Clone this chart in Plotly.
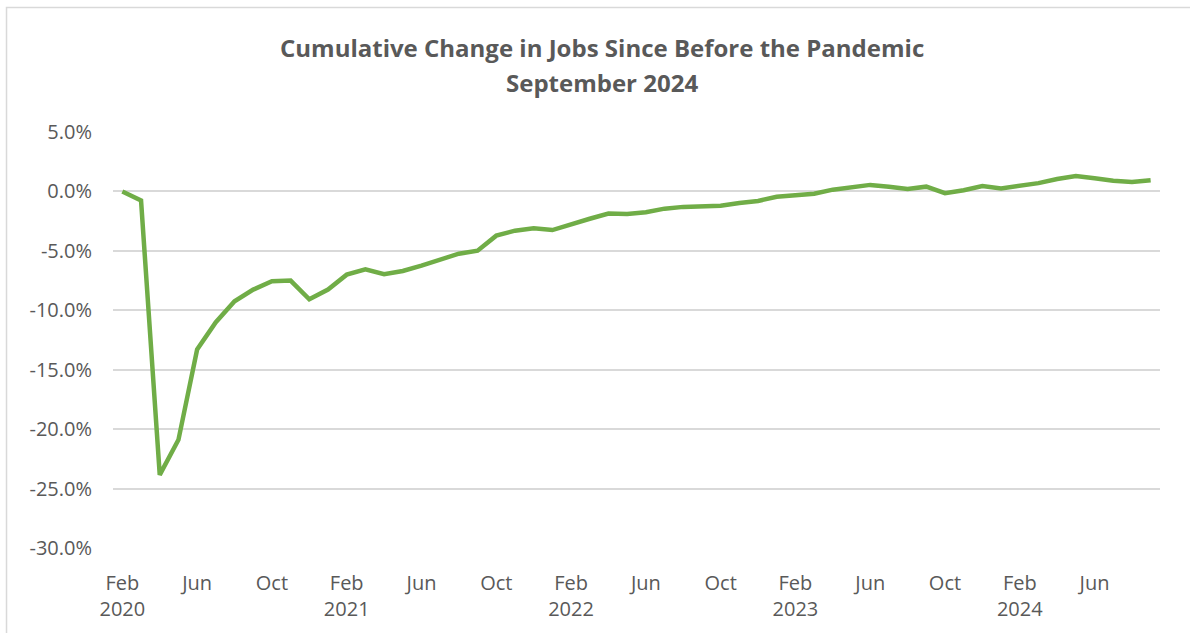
import plotly.graph_objects as go

# Months Feb 2020 .. Sep 2024
month_names = ["Jan", "Feb", "Mar", "Apr", "May", "Jun", "Jul", "Aug", "Sep", "Oct", "Nov", "Dec"]
months = []
y, m = 2020, 2
while (y, m) <= (2024, 9):
    months.append(f"{month_names[m-1]} {y}")
    m += 1
    if m > 12:
        m = 1
        y += 1

# Cumulative change in jobs since Feb 2020 (%)
values_2020 = [0.0, -0.76, -23.85, -20.9, -13.3, -11.0, -9.24, -8.26, -7.56, -7.5, -9.08]
values_2021 = [-8.26, -7.0, -6.55, -6.97, -6.69, -6.25, -5.77, -5.24, -4.99, -3.72, -3.3, -3.1]
values_2022 = [-3.25, -2.75, -2.3, -1.86, -1.9, -1.75, -1.45, -1.3, -1.25, -1.2, -0.98, -0.8]
values_2023 = [-0.45, -0.3, -0.2, 0.15, 0.35, 0.55, 0.4, 0.2, 0.4, -0.15, 0.1, 0.45]
values_2024 = [0.25, 0.5, 0.7, 1.05, 1.3, 1.1, 0.9, 0.8, 0.95]
values = values_2020 + values_2021 + values_2022 + values_2023 + values_2024

tick_months = ["Feb 2020", "Jun 2020", "Oct 2020", "Feb 2021", "Jun 2021", "Oct 2021",
               "Feb 2022", "Jun 2022", "Oct 2022", "Feb 2023", "Jun 2023", "Oct 2023",
               "Feb 2024", "Jun 2024"]
tick_text = ["Feb<br>2020", "Jun", "Oct", "Feb<br>2021", "Jun", "Oct",
             "Feb<br>2022", "Jun", "Oct", "Feb<br>2023", "Jun", "Oct",
             "Feb<br>2024", "Jun"]

y_ticks = [5, 0, -5, -10, -15, -20, -25, -30]
y_tick_text = ["5.0%", "0.0%", "-5.0%", "-10.0%", "-15.0%", "-20.0%", "-25.0%", "-30.0%"]

title_line1 = "Cumulative Change in Jobs Since Before the Pandemic"
title_line2 = "September 2024"

FONT = "Open Sans"
GRAY = "#595959"

fig = go.Figure()
fig.add_trace(go.Scatter(
    x=months, y=values, mode="lines",
    line=dict(color="#70AD47", width=4.5, shape="linear"),
    hoverinfo="x+y",
))

fig.update_layout(
    width=1190, height=633,
    margin=dict(l=113, r=30, t=132, b=85),
    paper_bgcolor="white", plot_bgcolor="white",
    showlegend=False,
    font=dict(family=FONT, color=GRAY, size=20),
    xaxis=dict(
        type="category",
        categoryorder="array", categoryarray=months,
        range=[-0.5, len(months) - 0.5],
        tickmode="array", tickvals=tick_months, ticktext=tick_text,
        showgrid=False, zeroline=False, showline=False, ticks="",
        tickfont=dict(family=FONT, size=20, color=GRAY),
        tickangle=0,
        ticklabelstandoff=21,
    ),
    yaxis=dict(
        range=[-30, 5],
        tickmode="array", tickvals=y_ticks, ticktext=y_tick_text,
        showgrid=True, gridcolor="#D9D9D9", gridwidth=1.5,
        zeroline=False, showline=False, ticks="",
        tickfont=dict(family=FONT, size=20, color=GRAY),
        ticklabelstandoff=20,
    ),
    annotations=[
        dict(text=f"<b>{title_line1}</b>", xref="paper", yref="paper",
             x=0.467, y=1.204, showarrow=False, xanchor="center", yanchor="middle",
             font=dict(family=FONT, size=24, color=GRAY)),
        dict(text=f"<b>{title_line2}</b>", xref="paper", yref="paper",
             x=0.467, y=1.120, showarrow=False, xanchor="center", yanchor="middle",
             font=dict(family=FONT, size=24, color=GRAY)),
    ],
    shapes=[
        dict(type="rect", xref="paper", yref="paper",
             x0=-0.1017, x1=1.5, y0=-1.0, y1=1.299,
             line=dict(color="#D9D9D9", width=1.5), fillcolor="rgba(0,0,0,0)",
             layer="below"),
    ],
)

fig.write_html("out.html", config={"displayModeBar": False},
               post_script="document.body.style.margin='0';document.body.style.overflow='hidden';")
